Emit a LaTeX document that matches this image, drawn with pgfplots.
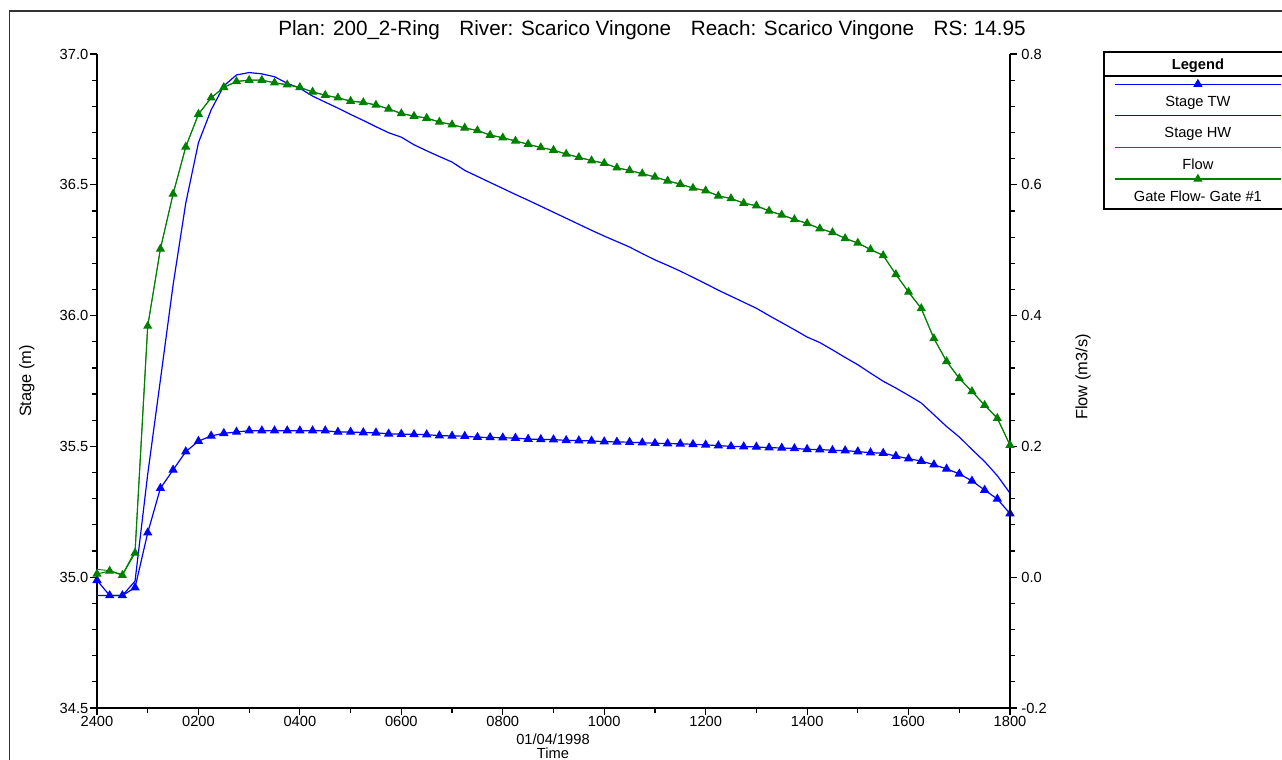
\documentclass[border=0pt]{standalone}
\usepackage{pgfplots}
\pgfplotsset{compat=1.18}
\usepackage{pgfplotstable}
\usepackage{fontspec}
\setmainfont{Liberation Sans}
\definecolor{hecblue}{RGB}{0,0,255}
\definecolor{hecgreen}{RGB}{0,128,0}
\newcommand\tickfont{\fontsize{11}{12}\selectfont}
\newcommand\legfont{\fontsize{11}{12}\selectfont}
\newcommand\labfont{\fontsize{12.3}{14}\selectfont}

\pgfplotstableread{
t tw hw flow gate
0.00 34.988 34.930 0.012 0.005
0.25 34.930 34.930 0.010 0.0095
0.50 34.930 34.930 0.004 0.003
0.75 34.960 34.985 0.040 0.037
1.00 35.170 35.394 0.384 0.384
1.25 35.340 35.754 0.502 0.502
1.50 35.410 36.117 0.586 0.586
1.75 35.480 36.430 0.658 0.658
2.00 35.520 36.661 0.708 0.708
2.25 35.540 36.786 0.733 0.733
2.50 35.550 36.878 0.749 0.749
2.75 35.555 36.920 0.758 0.758
3.00 35.560 36.929 0.760 0.760
3.25 35.560 36.924 0.760 0.760
3.50 35.560 36.913 0.756 0.756
3.75 35.560 36.888 0.753 0.753
4.00 35.560 36.869 0.749 0.749
4.25 35.560 36.839 0.742 0.742
4.50 35.560 36.816 0.737 0.737
4.75 35.555 36.793 0.733 0.733
5.00 35.555 36.769 0.728 0.728
5.25 35.553 36.746 0.726 0.726
5.50 35.552 36.722 0.722 0.722
5.75 35.548 36.699 0.716 0.716
6.00 35.547 36.682 0.709 0.709
6.25 35.546 36.653 0.705 0.705
6.50 35.545 36.630 0.702 0.702
6.75 35.541 36.608 0.696 0.696
7.00 35.540 36.587 0.692 0.692
7.25 35.539 36.555 0.687 0.687
7.50 35.535 36.532 0.683 0.683
7.75 35.534 36.509 0.676 0.676
8.00 35.533 36.486 0.672 0.672
8.25 35.532 36.463 0.667 0.667
8.50 35.528 36.441 0.662 0.662
8.75 35.527 36.418 0.657 0.657
9.00 35.526 36.395 0.653 0.653
9.25 35.523 36.372 0.647 0.647
9.50 35.522 36.349 0.642 0.642
9.75 35.521 36.326 0.637 0.637
10.00 35.518 36.304 0.633 0.633
10.25 35.517 36.283 0.626 0.626
10.50 35.516 36.262 0.622 0.622
10.75 35.514 36.237 0.617 0.617
11.00 35.512 36.213 0.612 0.612
11.25 35.511 36.192 0.606 0.606
11.50 35.510 36.170 0.601 0.601
11.75 35.508 36.146 0.595 0.595
12.00 35.506 36.122 0.591 0.591
12.25 35.503 36.097 0.583 0.583
12.50 35.500 36.074 0.579 0.579
12.75 35.499 36.051 0.572 0.572
13.00 35.498 36.028 0.568 0.568
13.25 35.495 36.000 0.560 0.560
13.50 35.494 35.973 0.554 0.554
13.75 35.492 35.946 0.547 0.547
14.00 35.489 35.918 0.541 0.541
14.25 35.488 35.897 0.533 0.533
14.50 35.485 35.869 0.527 0.527
14.75 35.484 35.840 0.518 0.518
15.00 35.480 35.812 0.511 0.511
15.25 35.476 35.780 0.501 0.501
15.50 35.474 35.749 0.492 0.492
15.75 35.463 35.723 0.463 0.463
16.00 35.453 35.695 0.436 0.436
16.25 35.444 35.666 0.411 0.411
16.50 35.430 35.621 0.365 0.365
16.75 35.414 35.576 0.330 0.330
17.00 35.395 35.536 0.304 0.304
17.25 35.368 35.488 0.284 0.284
17.50 35.333 35.442 0.263 0.263
17.75 35.299 35.388 0.243 0.243
18.00 35.243 35.321 0.202 0.202
}\data

\pgfplotsset{
  legentry/.style={legend image code/.code={
    \path[draw=none,fill=none] (0,0) rectangle (132.75pt,-22.4pt);
    \draw[mark repeat=2,mark phase=2,##1] plot coordinates {(7.5pt,-5pt) (70pt,-5pt) (132pt,-5pt)};
    \node[black, font=\legfont, anchor=center, inner sep=0pt] at (70pt,-18.3pt) {#1};
  }},
  legentrylast/.style={legend image code/.code={
    \path[draw=none,fill=none] (0,0) rectangle (132.75pt,-27.5pt);
    \draw[mark repeat=2,mark phase=2,##1] plot coordinates {(7.5pt,-5pt) (70pt,-5pt) (132pt,-5pt)};
    \node[black, font=\legfont, anchor=center, inner sep=0pt] at (70pt,-18.3pt) {#1};
  }},
  legheader/.style={legend image code/.code={
    \path[draw=none,fill=none] (0,0) rectangle (132.75pt,-17.25pt);
    \node[black, font=\legfont\bfseries, anchor=center, inner sep=0pt] at (70pt,-9pt) {Legend};
    \draw[black, line width=0.9pt] (0,-17.25pt) -- (132.75pt,-17.25pt);
  }},
  hecbase/.style={
    at={(72.75pt,39pt)}, anchor=south west,
    width=684.75pt, height=490.5pt, scale only axis,
    xmin=0, xmax=18,
    axis line style={-, line width=1pt, black},
    tick align=outside, major tick length=5pt, minor tick length=3.5pt,
    tick style={black, line width=0.9pt},
    every tick label/.append style={font=\tickfont},
    /pgf/number format/assume math mode=true,
    clip=false,
  },
}

\begin{document}
\begin{tikzpicture}
\useasboundingbox (0,0) rectangle (961.5pt,570pt);
\draw[line width=0.8pt, black!80] (7.1pt,-20pt) -- (7.1pt,561.75pt) -- (990pt,561.75pt);

\begin{axis}[hecbase,
  ymin=34.5, ymax=37,
  axis x line*=bottom, axis y line*=left,
  xtick={0,2,...,18},
  xticklabels={2400,0200,0400,0600,0800,1000,1200,1400,1600,1800},
  minor xtick={1,3,...,17},
  ytick={34.5,35,35.5,36,36.5,37},
  minor y tick num=4,
  yticklabel style={xshift=2pt, /pgf/number format/.cd, fixed, fixed zerofill, precision=1},
  xticklabel style={yshift=2pt},
]
\addplot[hecblue, line width=0.9pt, mark=triangle*, mark size=3.2pt, mark options={solid}] table[x=t,y=tw]{\data};
\addplot[hecblue, line width=0.9pt, no markers] table[x=t,y=hw]{\data};
\end{axis}

\begin{axis}[hecbase,
  ymin=-0.2, ymax=0.8,
  axis x line=none, axis y line*=right,
  ytick={-0.2,0,0.2,0.4,0.6,0.8},
  minor y tick num=4,
  yticklabel style={/pgf/number format/.cd, fixed, fixed zerofill, precision=1},
  legend style={at={(axis description cs:1.1029,1.0031)}, anchor=north west,
    draw=black, line width=0.9pt, inner sep=0pt, outer sep=0pt,
    row sep=0pt, column sep=0pt, nodes={inner sep=0pt, outer sep=0pt}, font=\legfont},
]
\addlegendimage{legheader}
\addlegendentry{\relax}
\addlegendimage{hecblue, line width=0.9pt, mark=triangle*, mark size=3.2pt, legentry={Stage TW}}
\addlegendentry{\relax}
\addlegendimage{hecblue, line width=0.9pt, legentry={Stage HW}}
\addlegendentry{\relax}
\addplot[hecgreen, line width=0.7pt, no markers, legentry={Flow}] table[x=t,y=flow]{\data};
\addlegendentry{\relax}
\addplot[hecgreen, line width=0.8pt, mark=triangle*, mark size=3.2pt, legentrylast={Gate Flow- Gate \#1}] table[x=t,y=gate]{\data};
\addlegendentry{\relax}
\end{axis}

\node[font=\fontsize{15.5}{17}\selectfont, anchor=center] at (489pt,547.5pt)
  {Plan: 200\_2-Ring\hspace{0.95em}River: Scarico Vingone\hspace{0.95em}Reach: Scarico Vingone\hspace{0.95em}RS: 14.95};
\node[font=\labfont, rotate=90, anchor=center] at (20.25pt,284.25pt) {Stage (m)};
\node[font=\labfont, rotate=90, anchor=center] at (812.25pt,287.25pt) {Flow (m3/s)};
\node[font=\tickfont, anchor=center] at (414.75pt,15.75pt) {01/04/1998};
\node[font=\tickfont, anchor=center] at (414.75pt,5.25pt) {Time};
\end{tikzpicture}
\end{document}
